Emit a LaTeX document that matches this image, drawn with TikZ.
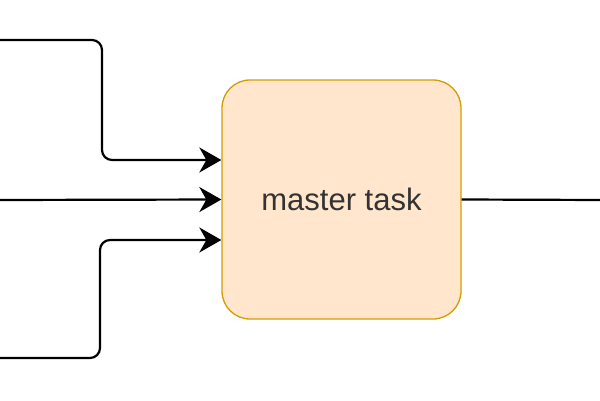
\documentclass[tikz,border=0pt]{standalone}
\usepackage{fontspec}
\setmainfont{Liberation Sans}
\usetikzlibrary{arrows.meta}
\definecolor{boxfill}{HTML}{FFE6CC}
\definecolor{boxline}{HTML}{D79B00}
\definecolor{txt}{HTML}{333333}
\begin{document}
\begin{tikzpicture}[x=1pt,y=-1pt,
  taskbox/.style={draw=boxline, fill=boxfill, line width=1.3pt, rounded corners=28pt,
    minimum width=239pt, minimum height=239pt, inner sep=0pt, text=txt,
    font=\fontsize{31}{36}\selectfont},
  conn/.style={draw=black, line width=2.2pt, rounded corners=10pt},
  arr/.style={conn, -{Stealth[length=22pt, width=25pt, inset=7pt]}}]
\useasboundingbox (0,0) rectangle (600,400);
\node[taskbox] (m) at (341.5,199.5) {master task};
\coordinate (t0) at (-5,40);
\coordinate (c0) at (-5,200);
\coordinate (b0) at (-5,358);
\coordinate (r0) at (605,200);
\draw[arr] (t0) -- (102,40) -- (102,160) -- (m.west |- 0,160);
\draw[arr] (c0) -- (m.west);
\draw[arr] (b0) -- (100,358) -- (100,240) -- (m.west |- 0,240);
\draw[conn] (m.east) -- (r0);
\end{tikzpicture}
\end{document}
